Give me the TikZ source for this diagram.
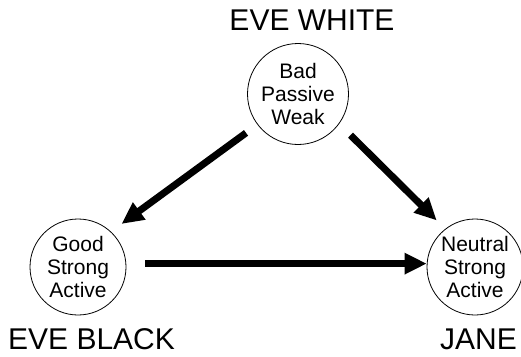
\documentclass[tikz,border=0pt]{standalone}
\usepackage{fontspec}
\setmainfont{Liberation Sans}
\usetikzlibrary{arrows.meta}
\begin{document}
\begin{tikzpicture}[x=1pt,y=-1pt,
  state/.style={circle, draw, line width=0.8pt, inner sep=0pt, minimum size=96pt, align=center,
    font=\fontsize{21}{23}\selectfont},
  title/.style={inner sep=0pt, font=\fontsize{30}{30}\selectfont},
  bigarrow/.style={line width=7pt, -{Triangle[length=22pt,width=20pt]}}]
\useasboundingbox (0,0) rectangle (521,356);
\node[state, minimum size=101pt] (w) at (298,94) {Bad\\Passive\\Weak};
\node[state] (b) at (78,267) {Good\\Strong\\Active};
\node[state] (j) at (475,267) {Neutral\\Strong\\Active};
\node[title, anchor=base] (tw) at (312,30) {EVE WHITE};
\node[title, anchor=base west] (tb) at (8,349) {EVE BLACK};
\node[title, anchor=base east] (tj) at (517,349) {JANE};
\draw[bigarrow, shorten <=14pt, shorten >=13pt] (w.217) -- (b.47);
\draw[bigarrow, shorten <=16pt, shorten >=12pt] (w.324) -- (j.128);
\draw[bigarrow, shorten <=19pt] (b.4) -- (j.176);
\end{tikzpicture}
\end{document}
